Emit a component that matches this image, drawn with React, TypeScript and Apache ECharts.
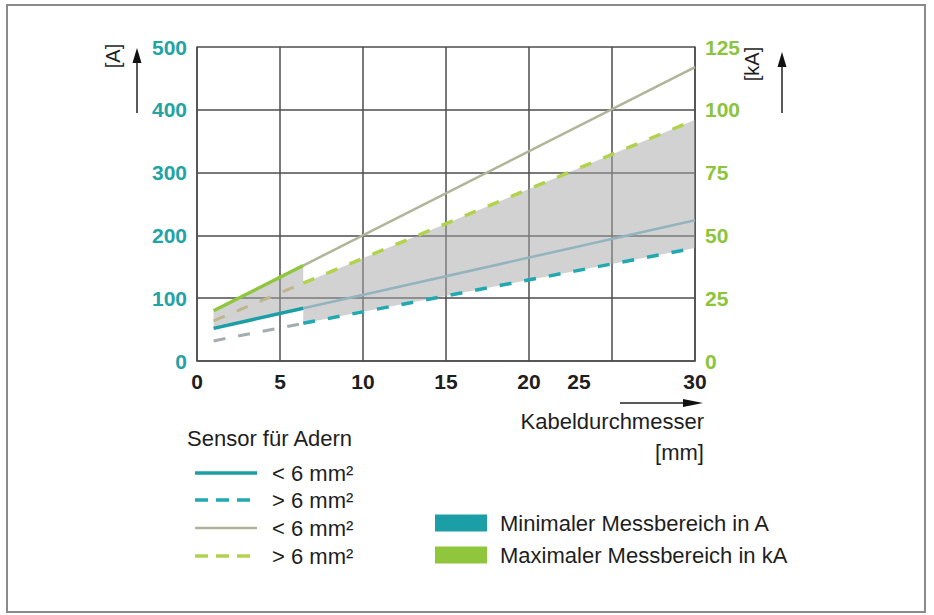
import React, { useEffect, useRef } from "react";
import * as echarts from "echarts";

// ---- data ----
const diameterMm = [1, 6.4, 30]; // cable diameter: start, change-over, end
const minSmallA = [52, 84, 224]; // min. range in A, sensor < 6 mm² (solid teal)
const minLargeA = [32, 60, 180]; // min. range in A, sensor > 6 mm² (dashed teal)
const maxSmallKA = [20, 38, 117]; // max. range in kA, sensor < 6 mm² (solid green)
const maxLargeKA = [16, 31, 96]; // max. range in kA, sensor > 6 mm² (dashed green)

const xMin = 0;
const xMax = 30;
const xInterval = 5;
const leftMax = 500;
const leftInterval = 100;
const rightMax = 125;
const rightInterval = 25;

const leftAxisName = "[A]";
const rightAxisName = "[kA]";
const xAxisName = "Kabeldurchmesser";
const xAxisUnit = "[mm]";
const sensorTitle = "Sensor für Adern";
const sensorItems = ["< 6 mm²", "> 6 mm²", "< 6 mm²", "> 6 mm²"];
const rangeItems = ["Minimaler Messbereich in A", "Maximaler Messbereich in kA"];

// ---- styles ----
const FONT = "'Liberation Sans', Arial, Helvetica, sans-serif";
const TEAL = "#1c9ea6";
const TEAL_LABEL = "#22a3a6";
const TEAL_DASH = "#22a8b0";
const TEAL_FADED = "#93b4be";
const TEAL_DASH_FADED = "#a3adb0";
const GREEN = "#90c63c";
const GREEN_LABEL = "#8cc43c";
const GREEN_DASH = "#b2d24e";
const GREEN_FADED = "#afb598";
const GREEN_DASH_FADED = "#bdb68f";
const GRID = "#4d4d4d";
const TEXT = "#1e1e1e";
const DASH = [12, 13];

function seg(ys: number[], from: number, to: number): number[][] {
  const out: number[][] = [];
  for (let i = from; i <= to; i++) out.push([diameterMm[i], ys[i]]);
  return out;
}

export default function App() {
  const ref = useRef<HTMLDivElement>(null);

  useEffect(() => {
    document.body.style.margin = "0";
    if (!ref.current) return;
    const chart = echarts.init(ref.current, null, { renderer: "svg" });
    const kA2A = leftMax / rightMax;

    const bandPoints: number[][] = [
      [diameterMm[0], maxSmallKA[0] * kA2A],
      [diameterMm[1], maxSmallKA[1] * kA2A],
      [diameterMm[1], maxLargeKA[1] * kA2A],
      [diameterMm[2], maxLargeKA[2] * kA2A],
      [diameterMm[2], minLargeA[2]],
      [diameterMm[1], minLargeA[1]],
      [diameterMm[1], minSmallA[1]],
      [diameterMm[0], minSmallA[0]],
    ];

    const lineSeries = (
      data: number[][],
      color: string,
      width: number,
      dashed: boolean,
      yAxisIndex: number
    ) => ({
      type: "line",
      data,
      yAxisIndex,
      symbol: "none",
      silent: true,
      z: 3,
      lineStyle: { color, width, type: dashed ? DASH : "solid", cap: "butt" },
    });

    const tickLabel = {
      fontFamily: FONT,
      fontWeight: "bold",
      fontSize: 21,
    };

    const arrowUp = (x: number, yTip: number, yBase: number) => [
      {
        type: "line",
        shape: { x1: x, y1: yBase, x2: x, y2: yTip + 10 },
        style: { stroke: "#222", lineWidth: 1.5 },
      },
      {
        type: "polygon",
        shape: { points: [[x, yTip], [x - 4.5, yTip + 15], [x + 4.5, yTip + 15]] },
        style: { fill: "#111" },
      },
    ];

    const legendY = [473, 500, 528, 556];
    const legendStyles = [
      { color: TEAL, width: 3.5, dash: false },
      { color: TEAL_DASH, width: 3.5, dash: true },
      { color: GREEN_FADED, width: 2.5, dash: false },
      { color: GREEN_DASH, width: 3.5, dash: true },
    ];

    const graphic: any[] = [
      {
        type: "rect",
        shape: { x: 7, y: 5, width: 918, height: 607 },
        style: { fill: "none", stroke: "#8a8a8a", lineWidth: 2 },
        z: -10,
        silent: true,
      },
      {
        type: "text",
        x: 113,
        y: 56,
        rotation: Math.PI / 2,
        style: { text: leftAxisName, font: `20px ${FONT}`, fill: TEXT, align: "center", verticalAlign: "middle" },
      },
      ...arrowUp(137, 48, 113),
      {
        type: "text",
        x: 752,
        y: 64,
        rotation: Math.PI / 2,
        style: { text: rightAxisName, font: `20px ${FONT}`, fill: TEXT, align: "center", verticalAlign: "middle" },
      },
      ...arrowUp(782, 52, 113),
      {
        type: "line",
        shape: { x1: 620, y1: 403, x2: 690, y2: 403 },
        style: { stroke: "#222", lineWidth: 1.5 },
      },
      {
        type: "polygon",
        shape: { points: [[703, 403], [683, 399], [683, 407]] },
        style: { fill: "#111" },
      },
      {
        type: "text",
        x: 704,
        y: 421,
        style: { text: xAxisName, font: `22px ${FONT}`, fill: TEXT, align: "right", verticalAlign: "middle" },
      },
      {
        type: "text",
        x: 704,
        y: 452,
        style: { text: xAxisUnit, font: `22px ${FONT}`, fill: TEXT, align: "right", verticalAlign: "middle" },
      },
      {
        type: "text",
        x: 187,
        y: 438,
        style: { text: sensorTitle, font: `22px ${FONT}`, fill: TEXT, align: "left", verticalAlign: "middle" },
      },
    ];

    sensorItems.forEach((label, i) => {
      const s = legendStyles[i];
      graphic.push({
        type: "line",
        shape: { x1: 195, y1: legendY[i], x2: 257, y2: legendY[i] },
        style: { stroke: s.color, lineWidth: s.width, lineDash: s.dash ? [13, 8] : null },
      });
      graphic.push({
        type: "text",
        x: 272,
        y: legendY[i],
        style: { text: label, font: `22px ${FONT}`, fill: TEXT, align: "left", verticalAlign: "middle" },
      });
    });

    const rangeColors = [TEAL, GREEN];
    const rangeY = [523, 555];
    rangeItems.forEach((label, i) => {
      graphic.push({
        type: "rect",
        shape: { x: 435, y: rangeY[i] - 8.5, width: 52, height: 17 },
        style: { fill: rangeColors[i] },
      });
      graphic.push({
        type: "text",
        x: 500,
        y: rangeY[i],
        style: { text: label, font: `22px ${FONT}`, fill: TEXT, align: "left", verticalAlign: "middle" },
      });
    });

    const option: any = {
      animation: false,
      backgroundColor: "#ffffff",
      grid: { left: 197, right: 239, top: 47, bottom: 254, containLabel: false },
      xAxis: {
        type: "value",
        min: xMin,
        max: xMax,
        interval: xInterval,
        axisLine: { show: true, lineStyle: { color: GRID, width: 1.5 } },
        axisTick: { show: false },
        splitLine: { show: true, lineStyle: { color: GRID, width: 1.5 } },
        axisLabel: {
          ...tickLabel,
          color: TEXT,
          margin: 10,
          formatter: (v: number) => (v === 25 ? "{shift|25}" : String(v)),
          rich: {
            shift: { ...tickLabel, color: TEXT, padding: [0, 66, 0, 0] },
          },
        },
      },
      yAxis: [
        {
          type: "value",
          min: 0,
          max: leftMax,
          interval: leftInterval,
          position: "left",
          axisLine: { show: true, lineStyle: { color: GRID, width: 1.5 } },
          axisTick: { show: false },
          splitLine: { show: true, lineStyle: { color: GRID, width: 1.5 } },
          axisLabel: { ...tickLabel, color: TEAL_LABEL, margin: 10 },
        },
        {
          type: "value",
          min: 0,
          max: rightMax,
          interval: rightInterval,
          position: "right",
          axisLine: { show: true, lineStyle: { color: GRID, width: 1.5 } },
          axisTick: { show: false },
          splitLine: { show: false },
          axisLabel: { ...tickLabel, color: GREEN_LABEL, margin: 10 },
        },
      ],
      series: [
        {
          type: "custom",
          xAxisIndex: 0,
          yAxisIndex: 0,
          silent: true,
          z: 2,
          data: [[diameterMm[0], 0]],
          renderItem: (_params: any, api: any) => ({
            type: "polygon",
            shape: { points: bandPoints.map((p) => api.coord(p)) },
            style: { fill: "rgba(165,165,165,0.5)" },
          }),
        },
        lineSeries(seg(minSmallA, 1, 2), TEAL_FADED, 2.5, false, 0),
        lineSeries(seg(minSmallA, 0, 1), TEAL, 3.5, false, 0),
        lineSeries(seg(minLargeA, 0, 1), TEAL_DASH_FADED, 3, true, 0),
        lineSeries(seg(minLargeA, 1, 2), TEAL_DASH, 3.5, true, 0),
        lineSeries(seg(maxSmallKA, 1, 2), GREEN_FADED, 2.5, false, 1),
        lineSeries(seg(maxSmallKA, 0, 1), GREEN, 3.5, false, 1),
        lineSeries(seg(maxLargeKA, 0, 1), GREEN_DASH_FADED, 3, true, 1),
        lineSeries(seg(maxLargeKA, 1, 2), GREEN_DASH, 3.5, true, 1),
      ],
      graphic,
    };

    chart.setOption(option);
    return () => chart.dispose();
  }, []);

  return (
    <div
      ref={ref}
      style={{ position: "fixed", left: 0, top: 0, width: 934, height: 615, background: "#fff" }}
    />
  );
}
